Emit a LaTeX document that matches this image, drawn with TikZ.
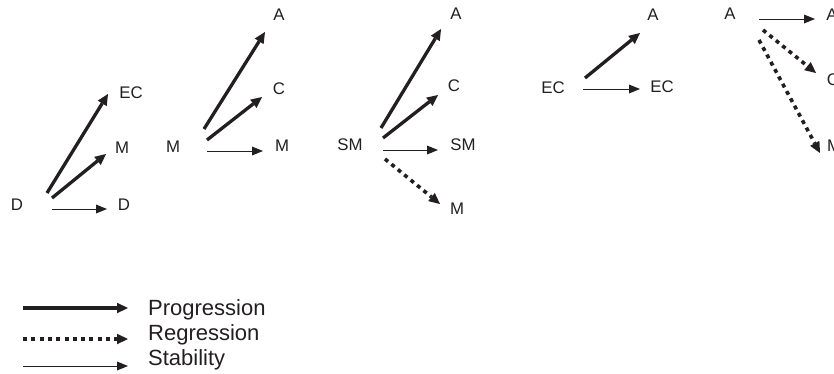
\documentclass[tikz,border=0pt]{standalone}
\usepackage{fontspec}
\setmainfont{Liberation Sans}
\usetikzlibrary{arrows.meta}
\definecolor{ink}{RGB}{35,31,32}
\begin{document}
\begin{tikzpicture}[x=1pt,y=-1pt,
  lbl/.style={inner sep=0pt, font=\fontsize{16.8}{20}\selectfont, text=ink},
  leg/.style={inner sep=0pt, anchor=base west, font=\fontsize{22}{26}\selectfont, text=ink},
  prog/.style={draw=ink, line width=3.3pt, -{Triangle[length=11pt,width=10.5pt,line width=0pt]}},
  regr/.style={draw=ink, line width=3.6pt, dash pattern=on 4pt off 4.3pt, -{Triangle[length=11pt,width=10.5pt,line width=0pt]}},
  stab/.style={draw=ink, line width=1pt, -{Triangle[length=11pt,width=9pt,line width=0pt]}},
]
\useasboundingbox (0,0) rectangle (834,373);

% D transitions
\node[lbl] (d0)  at (17,205)  {D};
\node[lbl] (d1)  at (124,205) {D};
\node[lbl] (m1)  at (122,148) {M};
\node[lbl] (ec1) at (131,93)  {EC};
\draw[prog] ([shift={(30,-12)}]d0.center) -- ([shift={(-23,1)}]ec1.center);
\draw[prog] ([shift={(35,-7)}]d0.center)  -- ([shift={(-16,6)}]m1.center);
\draw[stab] ([shift={(35,4)}]d0.center)   -- ([shift={(-17,4)}]d1.center);

% M transitions
\node[lbl] (m2)  at (173,147) {M};
\node[lbl] (a2)  at (279,15)  {A};
\node[lbl] (c2)  at (279,89)  {C};
\node[lbl] (m2t) at (282,146) {M};
\draw[prog] ([shift={(31,-18)}]m2.center) -- ([shift={(-14,17)}]a2.center);
\draw[prog] ([shift={(34,-7)}]m2.center)  -- ([shift={(-17,8)}]c2.center);
\draw[stab] ([shift={(34,4)}]m2.center)   -- ([shift={(-19,5)}]m2t.center);

% SM transitions
\node[lbl] (sm3)  at (350,145) {SM};
\node[lbl] (a3)   at (456,14)  {A};
\node[lbl] (c3)   at (454,86)  {C};
\node[lbl] (sm3t) at (463,145) {SM};
\node[lbl] (m3)   at (457,209) {M};
\draw[prog] ([shift={(31,-17)}]sm3.center) -- ([shift={(-15,15)}]a3.center);
\draw[prog] ([shift={(33,-7)}]sm3.center)  -- ([shift={(-16,9)}]c3.center);
\draw[stab] ([shift={(33,5)}]sm3.center)   -- ([shift={(-25,5)}]sm3t.center);
\draw[regr] ([shift={(35,14)}]sm3.center)  -- ([shift={(-17,-5)}]m3.center);

% EC transitions
\node[lbl] (ec4)  at (553,88) {EC};
\node[lbl] (a4)   at (653,15) {A};
\node[lbl] (ec4t) at (662,87) {EC};
\draw[prog] ([shift={(32,-10)}]ec4.center) -- ([shift={(-13,18)}]a4.center);
\draw[stab] ([shift={(30,1)}]ec4.center)   -- ([shift={(-22,2)}]ec4t.center);

% A transitions
\node[lbl] (a5)  at (730,14)  {A};
\node[lbl] (a5t) at (832,15)  {A};
\node[lbl] (c5)  at (833,80)  {C};
\node[lbl] (m5)  at (834,146) {M};
\draw[stab] ([shift={(29,5)}]a5.center)  -- ([shift={(-17,4)}]a5t.center);
\draw[regr] ([shift={(33,16)}]a5.center) -- ([shift={(-17,-7)}]c5.center);
\draw[regr] ([shift={(29,26)}]a5.center) -- ([shift={(-14,7)}]m5.center);

% legend
\node[leg] (lp) at (148,315) {Progression};
\node[leg] (lr) at (148,340) {Regression};
\node[leg] (ls) at (148,365) {Stability};
\draw[prog] ([shift={(-125,-7)}]lp.base west) -- ([shift={(-20,-7)}]lp.base west);
\draw[regr] ([shift={(-125,-1)}]lr.base west) -- ([shift={(-20,-1)}]lr.base west);
\draw[stab] ([shift={(-125,1)}]ls.base west)  -- ([shift={(-20,1)}]ls.base west);
\end{tikzpicture}
\end{document}
